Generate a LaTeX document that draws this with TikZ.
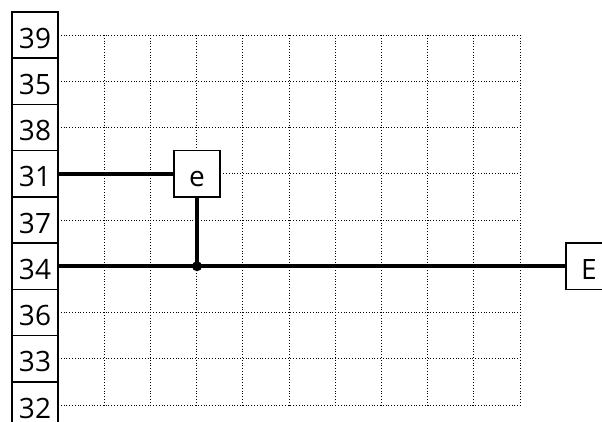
\documentclass[tikz,border=0pt]{standalone}
\usepackage{fontspec}
\setmainfont{Open Sans}
\begin{document}
\begin{tikzpicture}[x=1pt,y=-1pt,
  lbl/.style={draw,line width=1.6pt,minimum width=46pt,minimum height=46.25pt,inner sep=0pt,fill=white},
  txt/.style={font=\fontsize{28}{30}\selectfont,inner sep=0pt,anchor=base},
  grid/.style={dotted,line width=0.8pt,black},
  wire/.style={line width=4pt}]
\useasboundingbox (0,0) rectangle (602,421);
\clip (0,0) rectangle (602,421);
% grid
\foreach \i in {0,...,8} \draw[grid] (58,35+46.25*\i) -- (520,35+46.25*\i);
\foreach \j in {1,...,10} \draw[grid] (58+46.2*\j,35) -- (58+46.2*\j,405);
% row labels
\foreach \t [count=\i from 0] in {39,35,38,31,37,34,36,33,32}
  \node[lbl] (r\t) at (35,35+46.25*\i) {};
\foreach \t [count=\i from 0] in {39,35,38,31,37,34,36,33,32}
  \node[txt] at (35,48+46.25*\i) {\t};
\node[lbl] (e) at (197,173.75) {};
\node[txt] at (197,186.75) {e};
\node[lbl] (E) at (589,266.25) {};
\node[txt] at (589,279.25) {E};
\coordinate (j) at (197,266.25);
\draw[wire] (r31.east) -- (e.west);
\draw[wire] (r34.east) -- (E.west);
\draw[wire] (e.south) -- (j);
\fill (j) circle (5);
\end{tikzpicture}
\end{document}
